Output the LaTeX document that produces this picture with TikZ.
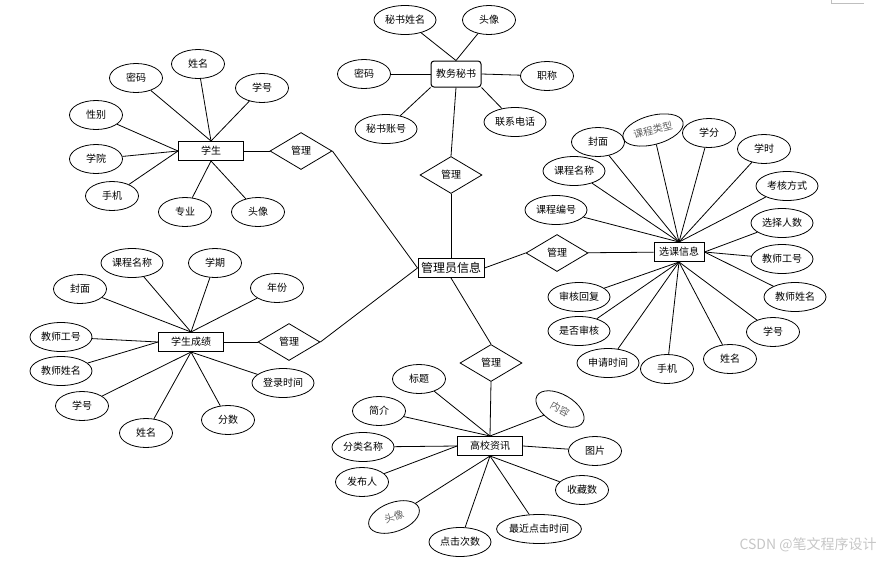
\documentclass[tikz,border=0pt]{standalone}
\usepackage{fontspec}
\newfontfamily\cjk{Noto Sans CJK SC}
\usepackage{tikz}
\usetikzlibrary{positioning, shapes.geometric}

\begin{document}
\begin{tikzpicture}[
    x=1pt, y=-1pt,
    every path/.style={line width=0.8pt},
    entity/.style={rectangle, draw, line width=1pt, minimum width=65pt, minimum height=19pt, inner sep=0pt, font=\cjk\fontsize{10}{12}\selectfont},
    attr/.style={ellipse, draw, minimum width=53pt, minimum height=29pt, inner sep=0pt, font=\cjk\fontsize{10}{12}\selectfont},
    wattr/.style={attr, minimum width=62pt},
    relation/.style={diamond, draw, minimum width=62pt, minimum height=37pt, inner sep=0pt, font=\cjk\fontsize{10}{12}\selectfont},
    faded/.style={text=black!62}
]
    \useasboundingbox (0,0) rectangle (881,560);

    % 管理员信息
    \node[entity, minimum width=66pt, font=\cjk\fontsize{12}{14}\selectfont] (a) at (451,268) {管理员信息};

    % 学生
    \begin{scope}[shift={(211,151)}]
        \node[entity] (s0) at (0,0) {学生};
        \node[attr] (s1) at (-75,-73) {密码};
        \node[attr] (s2) at (-13,-87) {姓名};
        \node[attr] (s3) at (51,-63) {学号};
        \node[attr] (s4) at (-115,-36) {性别};
        \node[attr] (s5) at (-115,8) {学院};
        \node[attr] (s6) at (-99,45) {手机};
        \node[attr] (s7) at (-26,61) {专业};
        \node[attr] (s8) at (47,61) {头像};
        \node[relation] (sr) at (90,0) {管理};
        \draw (s0.north) -- (s1);
        \draw (s0.north) -- (s2);
        \draw (s0.north) -- (s3);
        \draw (s0.west) -- (s4);
        \draw (s0.west) -- (s5);
        \draw (s0.west) -- (s6);
        \draw (s0.south) -- (s7);
        \draw (s0.south) -- (s8);
        \draw (s0) -- (sr);
    \end{scope}
    \draw (sr.east) -- (a.west);

    % 教务秘书
    \begin{scope}[shift={(456,74)}]
        \node[entity, rounded corners=3pt, minimum width=50pt, minimum height=26pt] (m0) at (0,0) {教务秘书};
        \node[wattr] (m1) at (-51,-54) {秘书姓名};
        \node[attr] (m2) at (33,-54) {头像};
        \node[attr] (m3) at (-92,0) {密码};
        \node[attr] (m4) at (91,2) {职称};
        \node[wattr] (m5) at (-70,55) {秘书账号};
        \node[wattr] (m6) at (59,48) {联系电话};
        \node[relation] (mr) at (-5,101) {管理};
        \draw (m0.north) -- (m1);
        \draw (m0.north) -- (m2);
        \draw (m0.west) -- (m3);
        \draw (m0.east) -- (m4);
        \draw (m0.south west) -- (m5);
        \draw (m0.south east) -- (m6);
        \draw (m0.south) -- (mr.north);
    \end{scope}
    \draw (mr.south) -- (a.north);

    % 选课信息
    \begin{scope}[shift={(679,252)}]
        \node[entity, minimum width=50pt] (k0) at (0,0) {选课信息};
        \node[relation] (kr) at (-122,1) {管理};
        \node[attr] (k1) at (-81,-110) {封面};
        \node[wattr, rotate=15, faded] (k2) at (-26,-122) {课程类型};
        \node[attr] (k3) at (30,-119) {学分};
        \node[attr] (k4) at (85,-103) {学时};
        \node[wattr] (k5) at (-105,-81) {课程名称};
        \node[wattr] (k6) at (108,-66) {考核方式};
        \node[wattr] (k7) at (-123,-42) {课程编号};
        \node[wattr] (k8) at (103,-29) {选择人数};
        \node[wattr] (k9) at (103,7) {教师工号};
        \node[wattr] (k10) at (-100,45) {审核回复};
        \node[wattr] (k11) at (116,45) {教师姓名};
        \node[wattr] (k12) at (-100,79) {是否审核};
        \node[attr] (k13) at (94,80) {学号};
        \node[wattr] (k14) at (-71,111) {申请时间};
        \node[attr] (k15) at (-12,117) {手机};
        \node[attr] (k16) at (51,107) {姓名};
        \foreach \i in {1,...,7} {
            \draw (k0.north) -- (k\i);
        }
        \draw (k0.east) -- (k8);
        \draw (k0.east) -- (k9);
        \draw (k0.east) -- (k11);
        \foreach \i in {10,12,13,14,15,16} {
            \draw (k0.south) -- (k\i);
        }
        \draw (kr) -- (k0);
    \end{scope}
    \draw (a.east) -- (kr.west);

    % 学生成绩
    \begin{scope}[shift={(191,342)}]
        \node[entity] (c0) at (0,0) {学生成绩};
        \node[relation] (cr) at (98,0) {管理};
        \node[wattr] (c1) at (-59,-79) {课程名称};
        \node[attr] (c2) at (24,-79) {学期};
        \node[attr] (c3) at (-111,-53) {封面};
        \node[attr] (c4) at (86,-54) {年份};
        \node[wattr] (c5) at (-130,-5) {教师工号};
        \node[wattr] (c6) at (-130,29) {教师姓名};
        \node[wattr] (c7) at (92,41) {登录时间};
        \node[attr] (c8) at (-109,64) {学号};
        \node[attr] (c9) at (37,78) {分数};
        \node[attr] (c10) at (-45,91) {姓名};
        \foreach \i in {1,...,4} {
            \draw (c0.north) -- (c\i);
        }
        \draw (c0.west) -- (c5);
        \draw (c0.west) -- (c6);
        \foreach \i in {7,...,10} {
            \draw (c0.south) -- (c\i);
        }
        \draw (c0) -- (cr);
    \end{scope}
    \draw (cr.east) -- (a.west);

    % 高校资讯
    \begin{scope}[shift={(490,446)}]
        \node[entity] (n0) at (0,0) {高校资讯};
        \node[relation] (nr) at (1,-83) {管理};
        \node[attr] (n1) at (-71,-67) {标题};
        \node[attr] (n2) at (-111,-35) {简介};
        \node[attr, rotate=-30, faded] (n3) at (70,-37) {内容};
        \node[wattr] (n4) at (-127,1) {分类名称};
        \node[attr] (n5) at (105,5) {图片};
        \node[attr] (n6) at (-128,36) {发布人};
        \node[attr] (n7) at (92,44) {收藏数};
        \node[attr, rotate=20, faded] (n8) at (-96,71) {头像};
        \node[wattr] (n9) at (-30,96) {点击次数};
        \node[attr, minimum width=82pt] (n10) at (49,83) {最近点击时间};
        \draw (n0.north) -- (n1);
        \draw (n0.north) -- (n2);
        \draw (n0.north) -- (n3);
        \draw (n0.west) -- (n4);
        \draw (n0.east) -- (n5);
        \draw (n0.west) -- (n6);
        \foreach \i in {7,...,10} {
            \draw (n0.south) -- (n\i);
        }
        \draw (nr.south) -- (n0.north);
    \end{scope}
    \draw (a.south) -- (nr.north);

    % 页角标记与水印
    \draw[gray!50, line width=0.5pt] (831,0) -- (831,3) -- (864,3);
    \node[anchor=east, text=gray!45, font=\cjk\fontsize{14}{16}\selectfont, inner sep=0pt] (wm) at (877,545) {CSDN @笔文程序设计};
\end{tikzpicture}
\end{document}
